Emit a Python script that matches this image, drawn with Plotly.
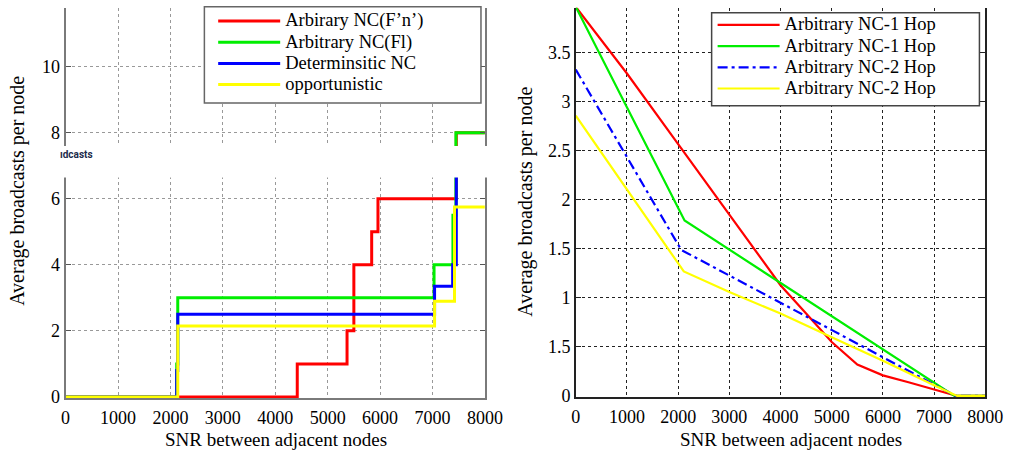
import plotly.graph_objects as go

W, H = 1016, 451

# ---------------- Left panel (step curves) ----------------
left_names = ["Arbirary NC(F\u2019n\u2019)", "Arbitrary NC(Fl)", "Determinsitic NC", "opportunistic"]
left_colors = ["#ff0000", "#00ee00", "#0000ff", "#ffff00"]

red_x = [0, 4420, 5370, 5500, 5840, 5960, 7455, 8000]
red_y = [0, 1.0, 2.0, 4.0, 5.0, 6.0, 8.0, 8.0]
green_x = [0, 2120, 2140, 7030, 7390, 7447, 8000]
green_y = [0, 1.0, 3.0, 4.0, 5.5, 8.0, 8.0]
blue_x = [0, 2120, 2140, 7040, 7385, 7455, 8000]
blue_y = [0, 0.8, 2.5, 3.35, 4.0, 7.0, 7.0]
yellow_x = [0, 2140, 7040, 7420, 8000]
yellow_y = [0, 2.15, 2.9, 5.75, 5.75]

left_x = [red_x, green_x, blue_x, yellow_x]
left_y = [red_y, green_y, blue_y, yellow_y]

# ---------------- Right panel (line curves) ----------------
right_names = ["Arbitrary NC-1 Hop", "Arbitrary NC-1 Hop", "Arbitrary NC-2 Hop", "Arbitrary NC-2 Hop"]
right_colors = ["#ff0000", "#00ee00", "#0000ff", "#ffff00"]
right_dash = ["solid", "solid", "10px,4px,3px,4px", "solid"]

r_red_x = [0, 1000, 2000, 3000, 4000, 4500, 5000, 5500, 6000, 6500, 7000, 7450, 8000]
r_red_y = [3.97, 3.29, 2.57, 1.85, 1.13, 0.84, 0.55, 0.32, 0.21, 0.14, 0.07, 0.0, 0.0]
r_green_x = [0, 2125, 7400, 8000]
r_green_y = [3.97, 1.79, 0.0, 0.0]
r_blue_x = [0, 2060, 7420, 8000]
r_blue_y = [3.33, 1.49, 0.0, 0.0]
r_yellow_x = [0, 2110, 3000, 4000, 5000, 6000, 7000, 7450, 8000]
r_yellow_y = [2.86, 1.27, 1.06, 0.84, 0.60, 0.36, 0.11, 0.0, 0.0]

right_x = [r_red_x, r_green_x, r_blue_x, r_yellow_x]
right_y = [r_red_y, r_green_y, r_blue_y, r_yellow_y]

x_ticks = [0, 1000, 2000, 3000, 4000, 5000, 6000, 7000, 8000]
left_y_ticks = [0, 2, 4, 6, 8, 10]
right_y_ticks = [0, 0.5, 1, 1.5, 2, 2.5, 3, 3.5]
right_y_ticktext = ["0", "1.5", "1", "1.5", "2", "2.5", "3", "3.5"]

FONT = "Liberation Serif"


def px(v):
    return v / W


def py(v):
    return 1 - v / H


def legend_label(s):
    # text drawn at 18.5px while legend rows are spaced like a 14px font
    return '<span style="font-size:18.5px">' + s + '</span>'


fig = go.Figure()

for xs, ys, name, col in zip(left_x, left_y, left_names, left_colors):
    fig.add_trace(go.Scatter(x=xs, y=ys, mode="lines", name=legend_label(name),
                             line=dict(color=col, width=3, shape="hv"),
                             xaxis="x", yaxis="y", legend="legend"))

for xs, ys, name, col, dash in zip(right_x, right_y, right_names, right_colors, right_dash):
    fig.add_trace(go.Scatter(x=xs, y=ys, mode="lines", name=legend_label(name),
                             line=dict(color=col, width=2.2, dash=dash),
                             xaxis="x2", yaxis="y2", legend="legend2"))

tickfont = dict(family=FONT, size=18, color="black")

fig.update_layout(
    width=W, height=H,
    margin=dict(l=0, r=0, t=0, b=0),
    paper_bgcolor="white", plot_bgcolor="white",
    font=dict(family=FONT, size=18, color="black"),
    xaxis=dict(domain=[px(62), px(491)], range=[0, 8000], anchor="y", tickvals=x_ticks,
               showgrid=True, gridcolor="#999999", griddash="dot", gridwidth=1.2,
               showline=True, linecolor="#7a7a7a", linewidth=2, ticks="", zeroline=False,
               tickfont=tickfont, ticklabelstandoff=3),
    yaxis=dict(domain=[py(406), py(8)], range=[-0.03, 11.78], anchor="x", tickvals=left_y_ticks,
               showgrid=True, gridcolor="#999999", griddash="dot", gridwidth=1.2,
               showline=True, linecolor="#7a7a7a", linewidth=2, mirror="ticks",
               ticks="inside", ticklen=5, tickcolor="#555", zeroline=False, tickfont=tickfont),
    xaxis2=dict(domain=[px(584), px(1003)], range=[0, 8000], anchor="y2", tickvals=x_ticks,
                showgrid=True, gridcolor="#222222", griddash="dot", gridwidth=1,
                showline=True, linecolor="#222", linewidth=1.5, ticks="", zeroline=False,
                tickfont=tickfont, ticklabelstandoff=3),
    yaxis2=dict(domain=[py(405), py(8)], range=[-0.01, 3.96], anchor="x2", tickvals=right_y_ticks,
                ticktext=right_y_ticktext,
                showgrid=True, gridcolor="#222222", griddash="dot", gridwidth=1,
                showline=True, linecolor="#222", linewidth=1.5, mirror="ticks",
                ticks="inside", ticklen=5, tickcolor="#222", zeroline=False, tickfont=tickfont),
    legend=dict(x=px(213), y=py(5.5), xanchor="left", yanchor="top", bgcolor="rgba(0,0,0,0)",
                borderwidth=0, font=dict(family=FONT, size=14, color="black"), itemwidth=62,
                tracegroupgap=0),
    legend2=dict(x=px(724), y=py(9.5), xanchor="left", yanchor="top", bgcolor="rgba(0,0,0,0)",
                 borderwidth=0, font=dict(family=FONT, size=14, color="black"), itemwidth=62,
                 tracegroupgap=0),
    showlegend=True,
)

shapes = [
    # legend boxes
    dict(type="rect", xref="paper", yref="paper", x0=px(204), x1=px(487), y0=py(105), y1=py(7),
         fillcolor="white", line=dict(color="#666", width=1.5), layer="above"),
    dict(type="rect", xref="paper", yref="paper", x0=px(723), x1=px(997), y0=py(108), y1=py(13),
         fillcolor="white", line=dict(color="#444", width=1.5), layer="above"),
    # white band (pasted image artifact)
    dict(type="rect", xref="paper", yref="paper", x0=px(46), x1=px(495), y0=py(181), y1=py(149),
         fillcolor="white", line=dict(width=0), layer="above"),
]
fig.update_layout(shapes=shapes)

annotations = [
    dict(text="SNR between adjacent nodes", x=px(277), y=py(448), xref="paper", yref="paper",
         showarrow=False, xanchor="center", yanchor="middle", font=dict(family=FONT, size=19)),
    dict(text="SNR between adjacent nodes", x=px(804), y=py(448), xref="paper", yref="paper",
         showarrow=False, xanchor="center", yanchor="middle", font=dict(family=FONT, size=19)),
    dict(text="Average broadcasts per node", x=px(12), y=py(195), xref="paper", yref="paper",
         showarrow=False, xanchor="center", yanchor="middle", textangle=-90, font=dict(family=FONT, size=20)),
    dict(text="Average broadcasts per node", x=px(533), y=py(206), xref="paper", yref="paper",
         showarrow=False, xanchor="center", yanchor="middle", textangle=-90, font=dict(family=FONT, size=20)),
    dict(text="<b>\u0131dcasts</b>", x=px(54), y=py(158), xref="paper", yref="paper",
         showarrow=False, xanchor="left", yanchor="middle", font=dict(family="Roboto", size=10, color="#1b2b4b")),
]
fig.update_layout(annotations=annotations)

fig.write_html("out.html")
